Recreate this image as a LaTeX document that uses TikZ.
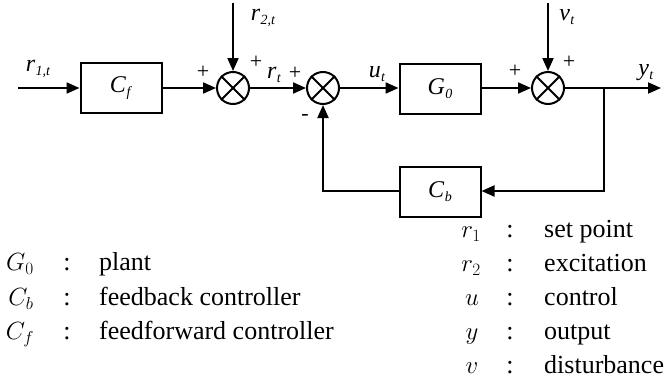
\documentclass[tikz,border=0pt]{standalone}
\usepackage{fontspec}
\setmainfont{Liberation Serif}
\usetikzlibrary{arrows.meta}
\newcommand\dlab[2]{\textit{#1}\kern0.3pt\raisebox{-0.35ex}{\fontsize{14}{14}\selectfont\textit{#2}}}
\begin{document}
\begin{tikzpicture}[x=1pt,y=-1pt,
  wire/.style={line width=2pt},
  arr/.style={wire,-{Triangle[length=13pt,width=11pt]}},
  blk/.style={draw,line width=2pt,minimum width=81pt,minimum height=50pt,inner sep=0pt,font=\fontsize{24}{26}\selectfont},
  sumnode/.style={draw,circle,line width=2pt,minimum size=32pt,inner sep=0pt},
  lab/.style={font=\fontsize{24}{26}\selectfont,inner sep=0pt},
  sgn/.style={font=\fontsize{22}{24}\selectfont,inner sep=0pt},
  leg/.style={font=\fontsize{26}{30}\selectfont,inner sep=0pt,anchor=mid},
  legl/.style={leg,anchor=mid west}]
\useasboundingbox (0,0) rectangle (668,383);
% blocks
\node[blk] (cf) at (121,88) {\dlab{C}{f}};
\node[blk] (g0) at (440,89) {\dlab{G}{0}};
\node[blk] (cb) at (440,192) {\dlab{C}{b}};
% summing junctions
\node[sumnode] (s1) at (233,88) {};
\node[sumnode] (s2) at (323,88) {};
\node[sumnode] (s3) at (548,88) {};
\foreach \s in {s1,s2,s3}{
  \draw[wire] (\s.north west) -- (\s.south east);
  \draw[wire] (\s.north east) -- (\s.south west);
}
% coordinates
\coordinate (in) at (18,88);
\coordinate (r2top) at (233,3);
\coordinate (vtop) at (548,3);
\coordinate (br) at (604,88);
\coordinate (out) at (661,88);
\coordinate (fbr) at (604,191);
\coordinate (fbl) at (323,191);
% connectors
\draw[arr] (in) -- (cf.west);
\draw[arr] (cf.east) -- (s1.west);
\draw[arr] (r2top) -- (s1.north);
\draw[arr] (s1.east) -- (s2.west);
\draw[arr] (s2.east) -- (g0.west |- s2.east);
\draw[arr] (g0.east |- s3.west) -- (s3.west);
\draw[arr] (vtop) -- (s3.north);
\draw[arr] (s3.east) -- (out);
\draw[arr] (br) -- (fbr) -- (cb.east |- fbr);
\draw[arr] (cb.west |- fbl) -- (fbl) -- (s2.south);
% signal labels
\node[lab] (lr1) at (38,69) {\dlab{r}{1,t}};
\node[lab] (lr2) at (263,18) {\dlab{r}{2,t}};
\node[lab] (lrt) at (274,75) {\dlab{r}{t}};
\node[lab] (lu) at (377,74) {\dlab{u}{t}};
\node[lab] (lv) at (567,17) {\dlab{v}{t}};
\node[lab] (ly) at (646,73) {\dlab{y}{t}};
% signs
\node[sgn] (p1) at (203,72) {+};
\node[sgn] (p2) at (256,62) {+};
\node[sgn] (p3) at (295,73) {+};
\node[sgn] (m1) at (305,117) {-};
\node[sgn] (p4) at (515,71) {+};
\node[sgn] (p5) at (569,62) {+};
% legend left
\node[leg] (kg) at (20,268) {$G_0$};
\node[leg] (kgc) at (67,268) {:};
\node[legl] (kgt) at (99,268) {plant};
\node[leg] (kb) at (21,303) {$C_b$};
\node[leg] (kbc) at (67,303) {:};
\node[legl] (kbt) at (99,303) {feedback controller};
\node[leg] (kf) at (20,337) {$C_f$};
\node[leg] (kfc) at (67,337) {:};
\node[legl] (kft) at (99,337) {feedforward controller};
% legend right
\node[leg] (k1) at (471,235) {$r_1$};
\node[leg] (k1c) at (510,235) {:};
\node[legl] (k1t) at (544,235) {set point};
\node[leg] (k2) at (471,269) {$r_2$};
\node[leg] (k2c) at (510,269) {:};
\node[legl] (k2t) at (544,269) {excitation};
\node[leg] (k3) at (472,303) {$u$};
\node[leg] (k3c) at (510,303) {:};
\node[legl] (k3t) at (544,303) {control};
\node[leg] (k4) at (472,337) {$y$};
\node[leg] (k4c) at (510,337) {:};
\node[legl] (k4t) at (544,337) {output};
\node[leg] (k5) at (472,371) {$v$};
\node[leg] (k5c) at (510,371) {:};
\node[legl] (k5t) at (544,371) {disturbance};
\end{tikzpicture}
\end{document}
